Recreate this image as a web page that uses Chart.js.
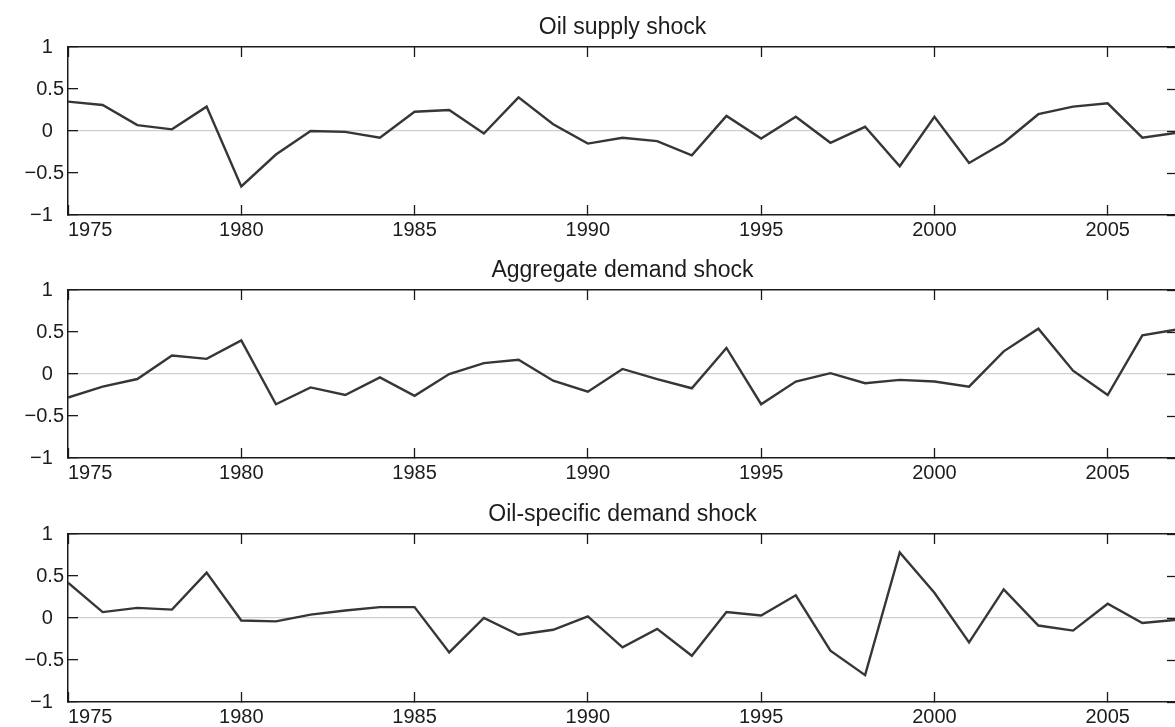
<!DOCTYPE html>
<html>
<head>
<meta charset="utf-8">
<script src="https://cdn.jsdelivr.net/npm/chart.js@4/dist/chart.umd.min.js"></script>
<style>
  html, body { margin: 0; padding: 0; background: #ffffff; overflow: hidden; }
  #wrap { position: relative; width: 1175px; height: 727px; overflow: hidden; background: #fff; }
  canvas { position: absolute; left: 0; }
</style>
</head>
<body>
<div id="wrap">
  <canvas id="c1" width="1190" height="243" style="top:0px"></canvas>
  <canvas id="c2" width="1190" height="243" style="top:243px"></canvas>
  <canvas id="c3" width="1190" height="243" style="top:487px"></canvas>
</div>
<script>
// ---- data ----
const years = [1975,1976,1977,1978,1979,1980,1981,1982,1983,1984,1985,1986,1987,1988,1989,1990,
               1991,1992,1993,1994,1995,1996,1997,1998,1999,2000,2001,2002,2003,2004,2005,2006,2007];
const oilSupplyShock = [0.35,0.31,0.07,0.02,0.29,-0.66,-0.28,0.00,-0.01,-0.08,0.23,0.25,-0.03,0.40,0.08,-0.15,
                        -0.08,-0.12,-0.29,0.18,-0.09,0.17,-0.14,0.05,-0.42,0.17,-0.38,-0.14,0.20,0.29,0.33,-0.08,-0.02];
const aggregateDemandShock = [-0.28,-0.15,-0.06,0.22,0.18,0.40,-0.36,-0.16,-0.25,-0.04,-0.26,0.00,0.13,0.17,-0.08,-0.21,
                              0.06,-0.06,-0.17,0.31,-0.36,-0.09,0.01,-0.11,-0.07,-0.09,-0.15,0.27,0.54,0.04,-0.25,0.46,0.53];
const oilSpecificDemandShock = [0.42,0.07,0.12,0.10,0.54,-0.03,-0.04,0.04,0.09,0.13,0.13,-0.41,0.00,-0.20,-0.14,0.02,
                                -0.35,-0.13,-0.45,0.07,0.03,0.27,-0.39,-0.68,0.78,0.30,-0.29,0.34,-0.09,-0.15,0.17,-0.06,-0.02];
const panelTitles = ['Oil supply shock', 'Aggregate demand shock', 'Oil-specific demand shock'];
const xTickValues = [1975,1980,1985,1990,1995,2000,2005,2007];
const xTickShown = [1975,1980,1985,1990,1995,2000,2005];
const yTickValues = [-1,-0.5,0,0.5,1];

// ---- styling ----
const FONT = "'Liberation Sans', Arial, Helvetica, sans-serif";
const TEXT = '#1c1c1c';
const AXIS = '#1a1a1a';

function fmtY(v) {
  const s = (v < 0 ? '\u2212' : '') + String(Math.abs(v));
  return Number.isInteger(v) ? s + '\u2007' : s;
}

function setTicks(values) {
  return function (axis) { axis.ticks = values.map(v => ({ value: v })); };
}

function makePanel(id, title, values) {
  const pts = years.map((yr, i) => ({ x: yr, y: values[i] }));
  new Chart(document.getElementById(id), {
    type: 'line',
    data: { datasets: [{ data: pts, borderColor: '#363636', borderWidth: 2.4, pointRadius: 0, tension: 0, fill: false }] },
    options: {
      responsive: false,
      animation: false,
      layout: { padding: { left: 0, right: 8.4, top: 0, bottom: 0 } },
      plugins: {
        legend: { display: false },
        tooltip: { enabled: false },
        title: {
          display: true, text: title, fullSize: false, color: TEXT,
          font: { family: FONT, size: 23, weight: 'normal' },
          padding: { top: 14, bottom: 5.4 }
        }
      },
      scales: {
        x: {
          type: 'linear', position: 'bottom', min: 1975, max: 2007,
          afterBuildTicks: setTicks(xTickValues),
          afterFit: s => { s.height = 28; },
          grid: { drawOnChartArea: false, drawTicks: true, tickLength: -10, tickColor: AXIS, tickWidth: 1.3 },
          border: { display: true, color: AXIS, width: 1.5 },
          ticks: {
            align: 'inner', padding: 13, color: TEXT, maxRotation: 0, autoSkip: false,
            font: { family: FONT, size: 20 },
            callback: v => (xTickShown.includes(v) ? String(v) : '')
          }
        },
        x2: {
          type: 'linear', position: 'top', min: 1975, max: 2007,
          afterBuildTicks: setTicks(xTickValues),
          afterFit: s => { s.height = 0; },
          grid: { drawOnChartArea: false, drawTicks: true, tickLength: -10, tickColor: AXIS, tickWidth: 1.3 },
          border: { display: true, color: AXIS, width: 1.5 },
          ticks: { display: false }
        },
        y: {
          type: 'linear', position: 'left', min: -1, max: 1,
          afterBuildTicks: setTicks(yTickValues),
          afterFit: s => { s.width = 68; },
          grid: {
            drawOnChartArea: true, drawTicks: true, tickLength: -10,
            color: c => (c.tick && c.tick.value === 0 ? '#cfcfcf' : 'rgba(0,0,0,0)'),
            lineWidth: 1.3, tickColor: AXIS, tickWidth: 1.3
          },
          border: { display: true, color: AXIS, width: 1.5 },
          ticks: { padding: 14, color: TEXT, font: { family: FONT, size: 20 }, callback: v => fmtY(v) }
        },
        y2: {
          type: 'linear', position: 'right', min: -1, max: 1,
          afterBuildTicks: setTicks(yTickValues),
          afterFit: s => { s.width = 0; },
          grid: { drawOnChartArea: false, drawTicks: true, tickLength: -10, tickColor: AXIS, tickWidth: 1.3 },
          border: { display: true, color: AXIS, width: 1.5 },
          ticks: { display: false }
        }
      }
    }
  });
}

makePanel('c1', panelTitles[0], oilSupplyShock);
makePanel('c2', panelTitles[1], aggregateDemandShock);
makePanel('c3', panelTitles[2], oilSpecificDemandShock);
</script>
</body>
</html>
